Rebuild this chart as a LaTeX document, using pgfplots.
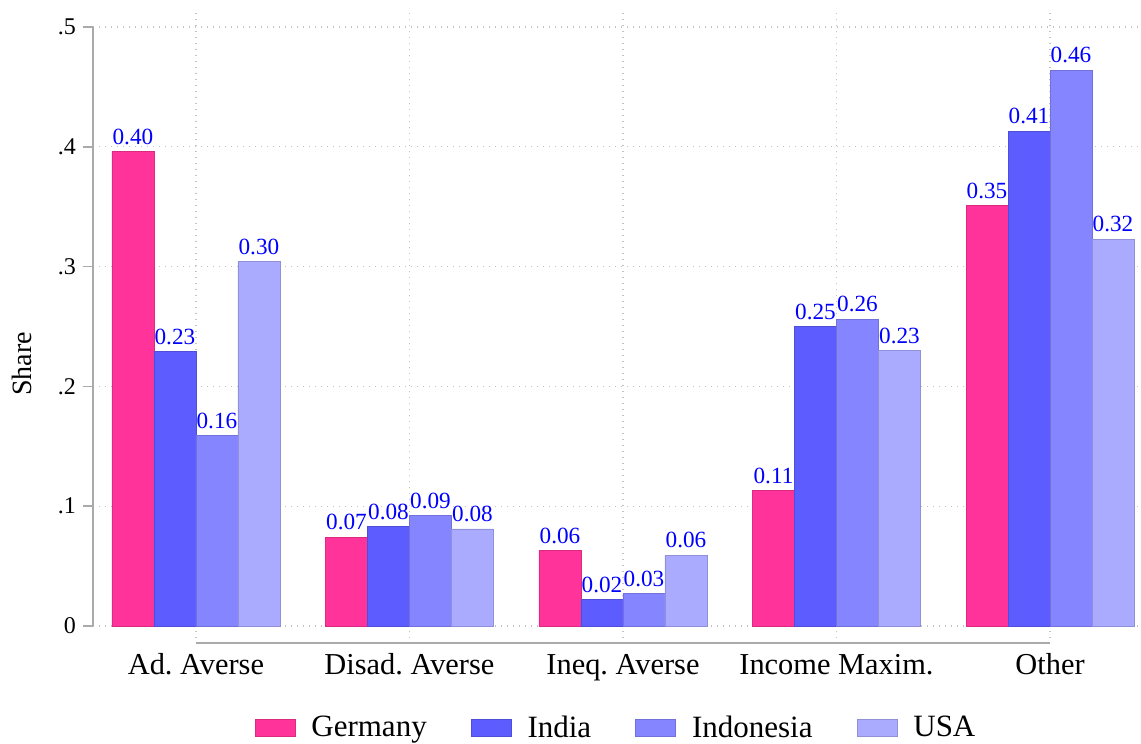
\documentclass[border=0pt]{standalone}
\usepackage{fontspec}
\setmainfont{Liberation Serif}
\usepackage{pgfplots}
\pgfplotsset{compat=1.18}

\definecolor{germany}{RGB}{255,51,153}
\definecolor{india}{RGB}{92,92,255}
\definecolor{indonesia}{RGB}{133,133,255}
\definecolor{usa}{RGB}{170,170,255}
\definecolor{axgray}{RGB}{170,170,170}
\definecolor{gridgray}{RGB}{195,195,195}

\pgfplotsset{barlegend/.style={legend image code/.code={\draw[##1] (0pt,-4.25pt) rectangle (20pt,4.25pt); \path (26pt,0pt);}}}

\begin{document}
\frenchspacing
\begin{tikzpicture}
\begin{axis}[
    name=ax,
    scale only axis,
    width=524pt, height=313pt,
    xmin=-0.482, xmax=4.426,
    ymin=-0.010, ymax=0.5125,
    ybar=0pt, bar width=21pt,
    clip=false,
    axis line style={draw=none},
    xtick={0,1,2,3,4},
    xticklabels={Ad. Averse, Disad. Averse, Ineq. Averse, Income Maxim., Other},
    ytick={0,0.1,0.2,0.3,0.4,0.5},
    yticklabels={0,.1,.2,.3,.4,.5},
    ytick pos=left,
    tick align=outside,
    major tick length=5pt,
    xtick style={draw=none},
    ytick style={axgray, line width=0.75pt},
    xmajorgrids, ymajorgrids,
    grid style={gridgray, line width=0.6pt, dash pattern=on 0.6pt off 2.4pt},
    xticklabel style={font=\fontsize{15.2}{17}\selectfont, anchor=base, yshift=-13pt},
    yticklabel style={font=\fontsize{12}{14}\selectfont},
    ylabel={Share},
    ylabel style={font=\fontsize{14}{16}\selectfont, at={(axis description cs:-0.0677,0.438)}, anchor=center},
    nodes near coords,
    every node near coord/.append style={font=\fontsize{11.6}{13}\selectfont, blue},
    /pgf/number format/fixed,
    /pgf/number format/fixed zerofill,
    /pgf/number format/precision=2,
    /pgf/number format/assume math mode=true,
    legend columns=4,
    legend style={draw=none, at={(axis description cs:0.5,-0.1438)}, anchor=center,
        font=\fontsize{15.5}{18}\selectfont,
        /tikz/every even column/.append style={column sep=20pt}},
]
\addplot[fill=germany, draw=germany!85!black, barlegend] coordinates {
    (0,0.396) (1,0.074) (2,0.063) (3,0.113) (4,0.351)};
\addplot[fill=india, draw=india!85!black, barlegend] coordinates {
    (0,0.229) (1,0.083) (2,0.022) (3,0.250) (4,0.413)};
\addplot[fill=indonesia, draw=indonesia!85!black, barlegend] coordinates {
    (0,0.159) (1,0.092) (2,0.027) (3,0.256) (4,0.464)};
\addplot[fill=usa, draw=usa!85!black, barlegend] coordinates {
    (0,0.304) (1,0.081) (2,0.059) (3,0.230) (4,0.323)};
\legend{Germany, India, Indonesia, USA}

% Stata-style axis lines
\draw[axgray, line width=0.75pt] (axis cs:-0.482,0) -- (axis cs:-0.482,0.5);
\draw[axgray, line width=0.9pt] (axis cs:0,-0.0142) -- (axis cs:4,-0.0142);
\end{axis}
\pgfresetboundingbox
\path[use as bounding box] ([xshift=-46.5pt,yshift=-53pt]ax.south west) rectangle ([yshift=6pt]ax.north east);
\end{tikzpicture}
\end{document}
